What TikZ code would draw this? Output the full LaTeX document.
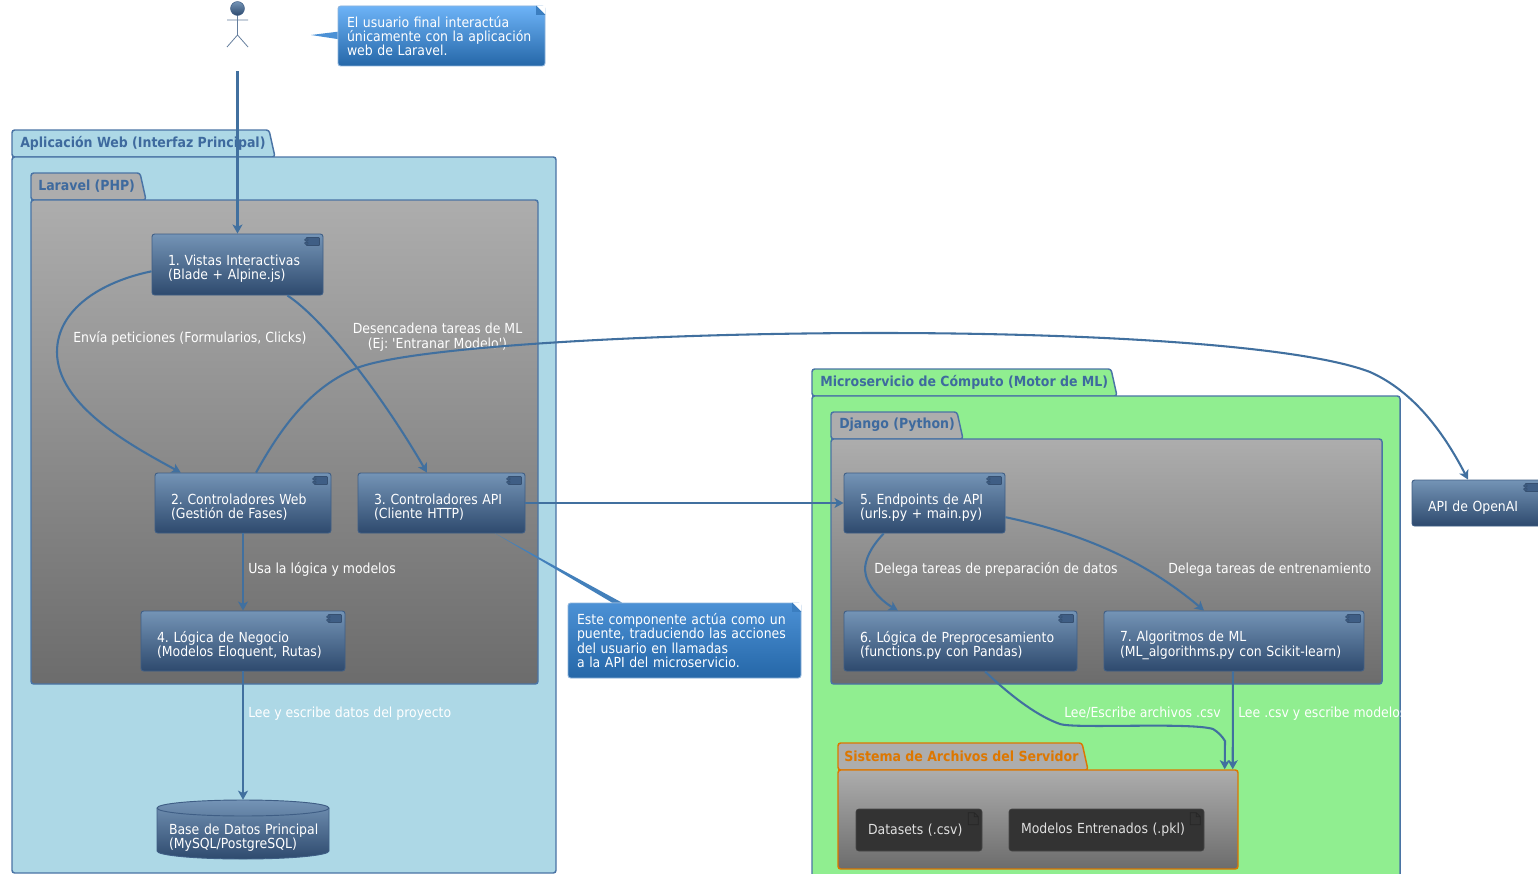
\documentclass[tikz,border=0pt]{standalone}
\usepackage{fontspec}
\setmainfont{DejaVu Sans Condensed}[Ligatures=TeXOff]
\usetikzlibrary{arrows.meta,calc}
\definecolor{linkc}{HTML}{41709F}
\definecolor{pkgline}{HTML}{4A74A5}
\definecolor{titlec}{HTML}{3E6A9E}
\definecolor{orangec}{HTML}{DD7700}
\definecolor{appfill}{HTML}{ADD8E6}
\definecolor{mlfill}{HTML}{90EE90}
\definecolor{grayT}{HTML}{ADADAD}
\definecolor{grayB}{HTML}{6C6C6C}
\definecolor{compT}{HTML}{7494B6}
\definecolor{compB}{HTML}{2E4A6E}
\definecolor{compL}{HTML}{3F5E85}
\definecolor{noteT}{HTML}{6DB3F7}
\definecolor{noteTb}{HTML}{4C91D5}
\definecolor{noteB}{HTML}{2567A8}
\definecolor{noteL}{HTML}{5C93CC}
\definecolor{artf}{HTML}{333333}
\tikzset{
  x=0.75pt,y=-0.75pt,
  txt/.style={font=\fontsize{10.4}{10.75}\selectfont,text=white,align=left,inner sep=0pt},
  comp/.style={txt,rectangle,rounded corners=2pt,draw=compL,line width=0.7pt,top color=compT,bottom color=compB,middle color=compT!50!compB,anchor=center},
  downtxt/.style={execute at begin node={\rule{0pt}{14.5pt}}},
  dbtxt/.style={execute at begin node={\rule{0pt}{20pt}}},
  artifact/.style={txt,rectangle,rounded corners=2pt,draw=artf!90!white,fill=artf,text=white!88!black,anchor=center},
  pkgbody/.style={rectangle,rounded corners=2pt,draw=#1,line width=1.1pt,anchor=center,inner sep=0pt},
  tabp/.style={rounded corners=2pt,draw=#1,line width=1.1pt},
  ptitle/.style={font=\fontsize{10.45}{11}\bfseries\selectfont,text=#1,anchor=west,inner sep=0pt},
  flabel/.style={txt,anchor=base west},
  clabel/.style={txt,anchor=center,align=center},
  link/.style={draw=linkc,line width=1.55pt,-{Stealth[length=6.8pt,width=7.5pt,inset=1.8pt]}},
  iconb/.style={draw=compL!85!black,fill=compL,line width=0.5pt,rounded corners=0.5pt},
  notebox/.style={txt,rectangle,rounded corners=2pt,draw=noteL!70!white,line width=0.7pt,anchor=center},
}
% name, x0,y0,x1,y1, style, text, left pad (px)
\newcommand\pbx[8]{%
  \pgfmathsetmacro\pbW{(#4-#2)*0.75}%
  \pgfmathsetmacro\pbH{(#5-#3)*0.75}%
  \pgfmathsetmacro\pbP{#8*0.75}%
  \pgfmathsetmacro\pbT{\pbW-2*\pbP}%
  \node[#6,minimum width=\pbW pt,minimum height=\pbH pt,text width=\pbT pt,inner xsep=\pbP pt] (#1) at ({(#2+#4)/2},{(#3+#5)/2}) {#7};}
\newcommand\compicon[1]{%
  \draw[iconb] ([xshift=-13pt,yshift=-3pt]#1.north east) rectangle ([xshift=-3pt,yshift=-9pt]#1.north east);
  \draw[iconb] ([xshift=-14pt,yshift=-4pt]#1.north east) rectangle ([xshift=-11.5pt,yshift=-5.5pt]#1.north east);
  \draw[iconb] ([xshift=-14pt,yshift=-6.5pt]#1.north east) rectangle ([xshift=-11.5pt,yshift=-8pt]#1.north east);}
\newcommand\fileicon[1]{%
  \draw[draw=black!85,line width=0.5pt] ([xshift=-10.5pt,yshift=-3pt]#1.north east) -- ([xshift=-6pt,yshift=-3pt]#1.north east) -- ([xshift=-3pt,yshift=-6pt]#1.north east) -- ([xshift=-3pt,yshift=-12pt]#1.north east) -- ([xshift=-10.5pt,yshift=-12pt]#1.north east) -- cycle
  ([xshift=-6pt,yshift=-3pt]#1.north east) -- ([xshift=-6pt,yshift=-6pt]#1.north east) -- ([xshift=-3pt,yshift=-6pt]#1.north east);}
\newcommand\notefold[1]{%
  \fill[white] ([xshift=-7pt]#1.north east) -- (#1.north east) -- ([yshift=-7pt]#1.north east) -- cycle;
  \fill[noteB!70!noteT] ([xshift=-7pt]#1.north east) -- ([xshift=-7pt,yshift=-7pt]#1.north east) -- ([yshift=-7pt]#1.north east) -- cycle;}
\begin{document}
\frenchspacing
\begin{tikzpicture}
\clip (0,0) rectangle (1538,874);
\fill[white] (0,0) rectangle (1538,874);

% Application package
\draw[tabp=pkgline,fill=appfill] (12,157) -- (12,130) -- (269,130) -- (275,157) -- cycle;
\pbx{app}{12}{157}{556}{873}{pkgbody=pkgline,fill=appfill}{}{0}
\node[ptitle=titlec] (appt) at (20,143) {Aplicación Web (Interfaz Principal)};
% Laravel package
\draw[tabp=pkgline,fill=grayT] (31,200) -- (31,173) -- (140,173) -- (146,200) -- cycle;
\pbx{lar}{31}{200}{538}{684}{pkgbody=pkgline,top color=grayT,bottom color=grayB}{}{0}
\node[ptitle=titlec] (lart) at (38,186) {Laravel (PHP)};
% ML package
\draw[tabp=pkgline,fill=mlfill] (812,396) -- (812,369) -- (1111,369) -- (1117,396) -- cycle;
\pbx{ml}{812}{396}{1400}{884}{pkgbody=pkgline,fill=mlfill}{}{0}
\node[ptitle=titlec] (mlt) at (820,382) {Microservicio de Cómputo (Motor de ML)};
% Django package
\draw[tabp=pkgline,fill=grayT] (831,439) -- (831,412) -- (957,412) -- (963,439) -- cycle;
\pbx{dj}{831}{439}{1382}{684}{pkgbody=pkgline,top color=grayT,bottom color=grayB}{}{0}
\node[ptitle=titlec] (djt) at (839,425) {Django (Python)};
% File system package
\draw[tabp=orangec,fill=grayT] (838,770) -- (838,743) -- (1082,743) -- (1088,770) -- cycle;
\pbx{fs}{838}{770}{1238}{869}{pkgbody=orangec,top color=grayT,bottom color=grayB}{}{0}
\node[ptitle=orangec] (fst) at (844,756) {Sistema de Archivos del Servidor};

% Actor
\node[inner sep=0pt,minimum width=30pt,minimum height=54pt] (actor) at (237.5,35) {};
\draw[compL!80!white,line width=0.6pt] (237.5,15) -- (237.5,35) (227,20) -- (248,20) (227,47) -- (237.5,35) -- (248,47);
\shade[top color=compT,bottom color=compB,draw=compL] (237.5,8.5) circle [radius=5.2pt];

% Components
\pbx{n1}{152}{234}{323}{295}{comp,downtxt}{1. Vistas Interactivas\\(Blade + Alpine.js)}{16}
\pbx{n2}{155}{473}{331}{533}{comp,downtxt}{2. Controladores Web\\(Gestión de Fases)}{16}
\pbx{n3}{358}{473}{525}{533}{comp,downtxt}{3. Controladores API\\(Cliente HTTP)}{16}
\pbx{n4}{141}{611}{345}{671}{comp,downtxt}{4. Lógica de Negocio\\(Modelos Eloquent, Rutas)}{16}
\pbx{n5}{844}{473}{1005}{533}{comp,downtxt}{5. Endpoints de API\\(urls.py + main.py)}{16}
\pbx{n6}{844}{611}{1077}{671}{comp,downtxt}{6. Lógica de Preprocesamiento\\(functions.py con Pandas)}{16}
\pbx{n7}{1104}{611}{1364}{671}{comp,downtxt}{7. Algoritmos de ML\\(ML\_algorithms.py con Scikit-learn)}{16}
\pbx{oai}{1412}{480}{1542}{526}{comp,downtxt}{API de OpenAI}{16}
\foreach \c in {n1,n2,n3,n4,n5,n6,n7,oai} {\compicon{\c}}

% Database
\shade[top color=compT,bottom color=compB,draw=compL,line width=0.7pt]
  (157,808) arc[start angle=180,end angle=360,x radius=86,y radius=8] -- (329,851)
  arc[start angle=0,end angle=180,x radius=86,y radius=8] -- cycle;
\draw[compL,line width=0.7pt] (157,808) arc[start angle=180,end angle=0,x radius=86,y radius=8];
\pbx{db}{157}{800}{329}{859}{txt,anchor=center,dbtxt}{\mbox{Base de Datos Principal}\\(MySQL/PostgreSQL)}{12}

% Artifacts
\pbx{ds}{856}{809}{982}{851}{artifact}{Datasets (.csv)}{12}
\pbx{mo}{1009}{809}{1204}{851}{artifact}{Modelos Entrenados (.pkl)}{12}
\fileicon{ds}\fileicon{mo}

% Labels
\node[flabel] (l1) at (73,342) {Envía peticiones (Formularios, Clicks)};
\node[clabel] (l2) at (437.5,337.5) {Desencadena tareas de ML\\[0.7pt](Ej: 'Entranar Modelo')};
\node[flabel] (l3) at (248,573) {Usa la lógica y modelos};
\node[flabel] (l4) at (248,717) {Lee y escribe datos del proyecto};
\node[flabel] (l5) at (874,573) {Delega tareas de preparación de datos};
\node[flabel] (l6) at (1168,573) {Delega tareas de entrenamiento};
\node[flabel] (l7) at (1064,717) {Lee/Escribe archivos .csv};
\node[flabel] (l8) at (1238,717) {Lee .csv y escribe modelos};

% Notes
\pbx{note1}{338}{6}{545}{66}{notebox,top color=noteT,bottom color=noteB}{El usuario final interactúa\\únicamente con la aplicación\\web de Laravel.}{9}
\pbx{note2}{568}{603}{801}{678}{notebox,top color=noteTb,bottom color=noteB}{Este componente actúa como un\\puente, traduciendo las acciones\\del usuario en llamadas\\a la API del microservicio.}{9}
\notefold{note1}\notefold{note2}
\fill[noteTb] ($(note1.north west)!0.43!(note1.south west)$) -- (311,35) -- ($(note1.north west)!0.55!(note1.south west)$) -- cycle;
\fill[noteTb!88!black] ($(n3.south west)!0.82!(n3.south east)$) -- ($(note2.north west)!0.19!(note2.north east)$) -- ($(note2.north west)!0.232!(note2.north east)$) -- cycle;

% Connectors
\draw[link] (actor.south) -- (n1.north);
\draw[link] ($(n1.north west)!0.61!(n1.south west)$) .. controls (100,282) and (57,310) .. (57,352) .. controls (57,405) and (130,445) .. ($(n2.north west)!0.148!(n2.north east)$);
\draw[link] ($(n1.south west)!0.79!(n1.south east)$) .. controls (325,320) and (385,400) .. ($(n3.north west)!0.413!(n3.north east)$);
\draw[link] ($(n2.north west)!0.574!(n2.north east)$) .. controls (285,420) and (315,385) .. (357,368) .. controls (410,347) and (650,333) .. (880,333) .. controls (1090,333) and (1300,345) .. (1370,372) .. controls (1415,392) and (1445,435) .. ($(oai.north west)!0.431!(oai.north east)$);
\draw[link] (n2.south) -- (n4.north);
\draw[link] (n3.east) -- (n5.west);
\draw[link] (n4.south) -- (db.north);
\draw[link] ($(n5.south west)!0.248!(n5.south east)$) .. controls (870,548) and (865,560) .. (865,570) .. controls (866,585) and (880,600) .. ($(n6.north west)!0.232!(n6.north east)$);
\draw[link] ($(n5.north east)!0.733!(n5.south east)$) .. controls (1090,535) and (1150,565) .. ($(n7.north west)!0.385!(n7.north east)$);
\draw[link] ($(n6.south west)!0.605!(n6.south east)$) .. controls (1015,700) and (1040,717) .. (1060,724) .. controls (1075,729) and (1190,722) .. (1213,729) .. controls (1218,732) and (1222,736) .. (1225,741) -- ($(fs.north west)!0.965!(fs.north east)$);
\draw[link] ($(n7.south west)!0.496!(n7.south east)$) -- ($(fs.north west)!0.985!(fs.north east)$);
\end{tikzpicture}
\end{document}
